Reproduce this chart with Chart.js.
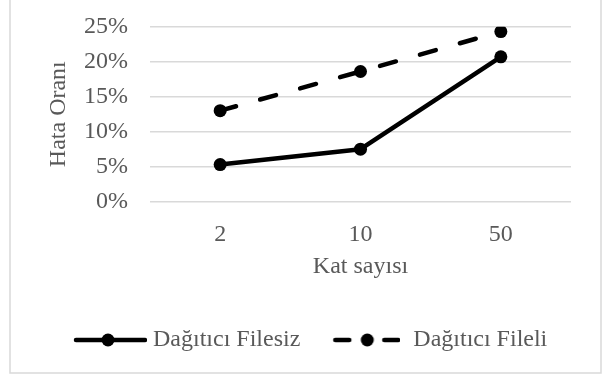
<!DOCTYPE html>
<html>
<head>
<meta charset="utf-8">
<script src="https://cdn.jsdelivr.net/npm/chart.js@4/dist/chart.umd.min.js"></script>
<style>
  html, body { margin: 0; padding: 0; background: #ffffff; }
  #wrap { position: relative; width: 609px; height: 376px; }
</style>
</head>
<body>
<div id="wrap"><canvas id="c" width="609" height="376"></canvas></div>
<script>
const categories = ['2', '10', '50'];
const seriesNames = ['Dağıtıcı Filesiz', 'Dağıtıcı Fileli'];
const filesiz = [5.3, 7.5, 20.7];
const fileli = [13.0, 18.6, 24.3];
const yTicks = [0, 5, 10, 15, 20, 25];
const xTitle = 'Kat sayısı';
const yTitle = 'Hata Oranı';

const FONT = "'Liberation Serif', 'Times New Roman', serif";
const TXT = '#595959';
const GRID = '#d9d9d9';

function makeIcon(width, lineStart, dashed) {
  const c = document.createElement('canvas');
  c.width = width; c.height = 16;
  const g = c.getContext('2d');
  g.strokeStyle = '#000'; g.fillStyle = '#000';
  g.lineWidth = 4.5; g.lineCap = 'round';
  const y = 8;
  const lineEnd = width;
  const dot = lineStart + 34;
  if (dashed) {
    g.beginPath(); g.moveTo(lineStart + 2, y); g.lineTo(lineStart + 16, y); g.stroke();
    g.beginPath(); g.moveTo(lineEnd - 16, y); g.lineTo(lineEnd - 2, y); g.stroke();
  } else {
    g.beginPath(); g.moveTo(lineStart + 2, y); g.lineTo(lineEnd - 2, y); g.stroke();
  }
  g.beginPath(); g.arc(dot, y, 6.5, 0, Math.PI * 2); g.fill();
  return c;
}
const icon1 = makeIcon(103, 30, false);
const icon2 = makeIcon(89, 22, true);

const frame = {
  id: 'frame',
  beforeDraw(chart) {
    const ctx = chart.ctx;
    ctx.save();
    ctx.fillStyle = '#fff';
    ctx.fillRect(0, 0, chart.width, chart.height);
    ctx.strokeStyle = GRID;
    ctx.lineWidth = 1.5;
    ctx.strokeRect(10, -5, 591, 378);
    ctx.restore();
  }
};

new Chart(document.getElementById('c'), {
  type: 'line',
  data: {
    labels: categories,
    datasets: [
      {
        label: seriesNames[0], data: filesiz,
        borderColor: '#000', backgroundColor: '#000', borderWidth: 4.5,
        pointStyle: 'circle', pointRadius: 6.5, pointBackgroundColor: '#000', pointBorderWidth: 0,
        borderCapStyle: 'round', borderJoinStyle: 'round', tension: 0
      },
      {
        label: seriesNames[1], data: fileli,
        borderColor: '#000', backgroundColor: '#000', borderWidth: 4.5,
        borderDash: [16.5, 25], borderCapStyle: 'round',
        pointStyle: 'circle', pointRadius: 6.5, pointBackgroundColor: '#000', pointBorderWidth: 0,
        tension: 0
      }
    ]
  },
  options: {
    responsive: false,
    animation: false,
    devicePixelRatio: 1,
    layout: { padding: { left: 40, right: 38, top: 26.7, bottom: 14 } },
    plugins: {
      legend: {
        position: 'bottom',
        align: 'start',
        labels: {
          usePointStyle: true,
          pointStyleWidth: 91,
          padding: 10,
          color: TXT,
          font: { family: FONT, size: 24 },
          generateLabels(chart) {
            return chart.data.datasets.map((ds, i) => ({
              text: ds.label,
              fillStyle: '#000', strokeStyle: '#000', lineWidth: 0,
              pointStyle: i === 0 ? icon1 : icon2,
              fontColor: TXT, hidden: false, datasetIndex: i
            }));
          }
        }
      },
      tooltip: { enabled: false }
    },
    scales: {
      x: {
        offset: true,
        grid: { display: false, drawTicks: false },
        border: { display: false },
        ticks: { color: TXT, font: { family: FONT, size: 24 }, padding: 19 },
        title: { display: true, text: xTitle, color: TXT, font: { family: FONT, size: 24 }, padding: { top: 0, bottom: 37 } },
        afterFit(s) { s.height = 116.3; s.paddingLeft = 0; s.paddingRight = 0; }
      },
      y: {
        min: 0, max: 25,
        afterBuildTicks(s) { s.ticks = yTicks.map(v => ({ value: v })); },
        grid: { color: GRID, lineWidth: 1.5, drawTicks: false },
        border: { display: false },
        ticks: { color: TXT, font: { family: FONT, size: 24 }, padding: 22, callback: v => v + '%' },
        title: { display: true, text: yTitle, color: TXT, font: { family: FONT, size: 24 }, padding: { top: 4.6, bottom: 0 } },
        afterFit(s) { s.width = 110; s.paddingTop = 0; s.paddingBottom = 0; }
      }
    }
  },
  plugins: [frame]
});
</script>
</body>
</html>
